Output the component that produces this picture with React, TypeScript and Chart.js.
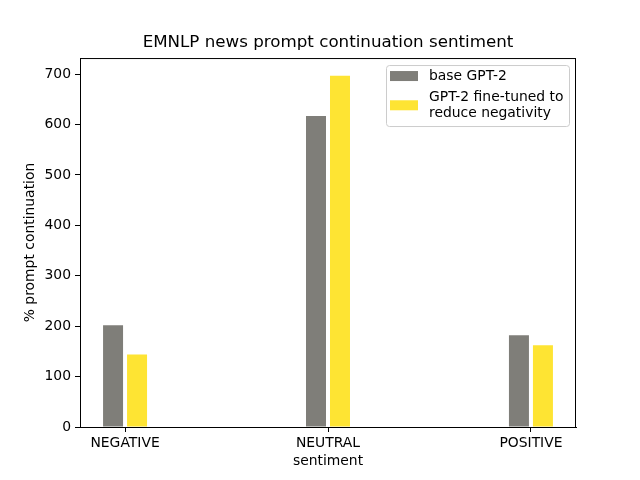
import { useRef, useEffect } from 'react';
import { Chart, registerables } from 'chart.js';

Chart.register(...registerables);

const categories = ['NEGATIVE', 'NEUTRAL', 'POSITIVE'];
const baseValues = [202, 617, 182];
const tunedValues = [144, 697, 162];
const seriesLabels = ['base GPT-2', 'GPT-2 fine-tuned to\nreduce negativity'];
const yTicks = [0, 100, 200, 300, 400, 500, 600, 700];

const FONT = 'DejaVu Sans';

// draws the matplotlib-like box around the plot area
const frame = {
    id: 'frame',
    afterDraw(chart: any) {
        const { ctx, chartArea: a } = chart;
        ctx.save();
        ctx.strokeStyle = '#000';
        ctx.lineWidth = 1;
        ctx.strokeRect(a.left + 0.5, a.top + 0.5, a.right - a.left - 1, a.bottom - a.top);
        ctx.restore();
    }
};

// legend box in the upper right, with wrapped labels
const boxLegend = {
    id: 'boxLegend',
    afterDraw(chart: any) {
        const { ctx, chartArea: a } = chart;
        const fs = 13.9;
        const lh = 15.5;
        const w = 183;
        const h = 61;
        const x = a.right - 7 - w;
        const y = a.top + 7;
        ctx.save();
        ctx.beginPath();
        ctx.roundRect(x + 0.5, y + 0.5, w, h, 3);
        ctx.fillStyle = 'rgba(255,255,255,0.8)';
        ctx.fill();
        ctx.strokeStyle = '#cccccc';
        ctx.lineWidth = 1;
        ctx.stroke();
        ctx.font = `${fs}px "${FONT}"`;
        ctx.textBaseline = 'middle';
        ctx.fillStyle = '#000';
        let cy = y + 11;
        chart.data.datasets.forEach((ds: any) => {
            const lines = String(ds.label).split('\n');
            const mid = cy + ((lines.length - 1) * lh) / 2;
            ctx.fillStyle = ds.backgroundColor;
            ctx.fillRect(x + 4, mid - 5, 28, 10);
            ctx.fillStyle = '#000';
            lines.forEach((ln: string, i: number) => {
                ctx.fillText(ln, x + 43, cy + i * lh);
            });
            cy += lines.length * lh + 6;
        });
        ctx.restore();
    }
};

const App = () => {
    const canvasRef = useRef<HTMLCanvasElement>(null);
    const chartRef = useRef<any>(null);

    useEffect(() => {
        if (!canvasRef.current) return;
        if (chartRef.current) chartRef.current.destroy();

        chartRef.current = new Chart(canvasRef.current, {
            type: 'bar',
            data: {
                datasets: [
                    {
                        label: seriesLabels[0],
                        data: baseValues.map((v, i) => ({ x: i, y: v })),
                        backgroundColor: '#7f7e79'
                    },
                    {
                        label: seriesLabels[1],
                        data: tunedValues.map((v, i) => ({ x: i, y: v })),
                        backgroundColor: '#fee433'
                    }
                ]
            },
            options: {
                responsive: false,
                animation: false,
                devicePixelRatio: 1,
                categoryPercentage: 48 / 203,
                barPercentage: 20 / 24,
                layout: { padding: { left: 16, right: 0, top: 0, bottom: 0 } },
                plugins: {
                    legend: { display: false },
                    tooltip: { enabled: false },
                    title: {
                        display: true,
                        text: 'EMNLP news prompt continuation sentiment',
                        color: '#000',
                        font: { family: FONT, size: 16.7, weight: 'normal' },
                        padding: { top: 33, bottom: 5 }
                    }
                },
                scales: {
                    x: {
                        type: 'linear',
                        offset: false,
                        min: -0.222,
                        max: 2.222,
                        afterBuildTicks: (s: any) => { s.ticks = categories.map((_, i) => ({ value: i })); },
                        afterFit: (s: any) => { s.height = 53; },
                        ticks: {
                            color: '#000',
                            font: { family: FONT, size: 13.9 },
                            padding: 3,
                            maxRotation: 0,
                            callback: (v: any) => categories[v] ?? ''
                        },
                        grid: { display: true, offset: false, drawOnChartArea: false, drawTicks: true, tickLength: 5, color: '#000' },
                        border: { display: true, color: '#000' },
                        title: {
                            display: true,
                            text: 'sentiment',
                            color: '#000',
                            font: { family: FONT, size: 13.9 },
                            padding: 10
                        }
                    },
                    y: {
                        min: 0,
                        max: 732,
                        afterBuildTicks: (s: any) => { s.ticks = yTicks.map(v => ({ value: v })); },
                        afterFit: (s: any) => { s.width = 64; },
                        ticks: {
                            color: '#000',
                            font: { family: FONT, size: 13.9 },
                            padding: 4
                        },
                        grid: { display: true, drawOnChartArea: false, drawTicks: true, tickLength: 5, color: '#000' },
                        border: { display: true, color: '#000' },
                        title: {
                            display: true,
                            text: '% prompt continuation',
                            color: '#000',
                            font: { family: FONT, size: 13.9 },
                            padding: 6
                        }
                    },
                    // empty right-hand axis that keeps the right margin
                    yRight: {
                        position: 'right',
                        display: true,
                        afterFit: (s: any) => { s.width = 64; },
                        ticks: { display: false },
                        grid: { display: false },
                        border: { display: false }
                    }
                }
            },
            plugins: [frame, boxLegend]
        } as any);

        return () => { if (chartRef.current) chartRef.current.destroy(); };
    }, []);

    return (
        <div style={{ position: 'fixed', left: 0, top: 0, width: 640, height: 480, background: '#fff' }}>
            <canvas ref={canvasRef} width={640} height={480}></canvas>
        </div>
    );
};

export default App;
